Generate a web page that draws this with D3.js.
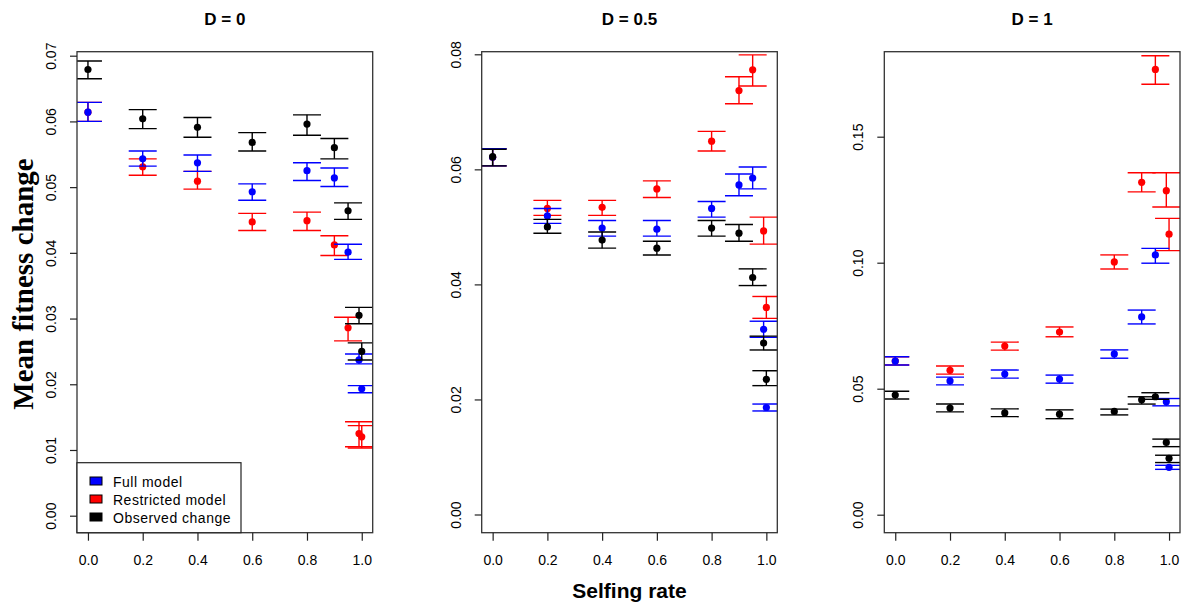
<!DOCTYPE html>
<html>
<head>
<meta charset="utf-8">
<script src="https://cdnjs.cloudflare.com/ajax/libs/d3/7.8.5/d3.min.js"></script>
<style>
    body { margin: 0; background: #ffffff; }
    text { font-family: "Liberation Sans", Arial, sans-serif; fill: #000; }
</style>
</head>
<body>
<svg id="viz" width="1182" height="608"></svg>
<script>
// selfing rates on the x axis (same for every panel)
const selfing = [0, 0.2, 0.4, 0.6, 0.8, 0.9, 0.95, 0.99, 1];
const x_ticks = [0, 0.2, 0.4, 0.6, 0.8, 1];
const panel_titles = ["D = 0", "D = 0.5", "D = 1"];
const y_ticks_d0 = [0, 0.01, 0.02, 0.03, 0.04, 0.05, 0.06, 0.07];
const y_ticks_d05 = [0, 0.02, 0.04, 0.06, 0.08];
const y_ticks_d1 = [0, 0.05, 0.10, 0.15];
const legend_keys = ["Full model", "Restricted model", "Observed change"];

// each entry: [mean, lower, upper]
const d0_full = [[0.0614, 0.0600, 0.0629], [0.0543, 0.0532, 0.0555], [0.0537, 0.0524, 0.0549], [0.0493, 0.0480, 0.0505], [0.0525, 0.0510, 0.0537], [0.0514, 0.0501, 0.0529], [0.0401, 0.0390, 0.0413], [0.0237, 0.0231, 0.0246], [0.0193, 0.0187, 0.0198]];
const d0_restricted = [[0.0614, 0.0600, 0.0629], [0.0531, 0.0518, 0.0543], [0.0509, 0.0497, 0.0524], [0.0447, 0.0434, 0.0460], [0.0449, 0.0434, 0.0462], [0.0412, 0.0396, 0.0426], [0.0286, 0.0266, 0.0302], [0.0125, 0.0105, 0.0143], [0.0120, 0.0103, 0.0137]];
const d0_observed = [[0.0679, 0.0665, 0.0692], [0.0604, 0.0589, 0.0618], [0.0591, 0.0576, 0.0606], [0.0568, 0.0555, 0.0583], [0.0596, 0.0579, 0.0610], [0.0560, 0.0543, 0.0574], [0.0464, 0.0451, 0.0476], [0.0305, 0.0292, 0.0317], [0.0250, 0.0237, 0.0263]];

const d05_full = [[0.0621, 0.0606, 0.0636], [0.0519, 0.0506, 0.0532], [0.0498, 0.0484, 0.0511], [0.0496, 0.0484, 0.0511], [0.0532, 0.0517, 0.0544], [0.0573, 0.0554, 0.0592], [0.0585, 0.0566, 0.0604], [0.0322, 0.0308, 0.0336], [0.0186, 0.0180, 0.0192]];
const d05_restricted = [[0.0621, 0.0606, 0.0636], [0.0532, 0.0520, 0.0546], [0.0534, 0.0520, 0.0546], [0.0566, 0.0551, 0.0580], [0.0649, 0.0632, 0.0666], [0.0737, 0.0714, 0.0761], [0.0773, 0.0745, 0.0799], [0.0493, 0.0470, 0.0517], [0.0360, 0.0341, 0.0379]];
const d05_observed = [[0.0622, 0.0606, 0.0635], [0.0500, 0.0489, 0.0513], [0.0477, 0.0463, 0.0491], [0.0463, 0.0451, 0.0475], [0.0498, 0.0484, 0.0511], [0.0489, 0.0475, 0.0504], [0.0412, 0.0398, 0.0427], [0.0298, 0.0286, 0.0310], [0.0235, 0.0224, 0.0250]];

const d1_full = [[0.0610, 0.0594, 0.0627], [0.0531, 0.0515, 0.0546], [0.0558, 0.0542, 0.0574], [0.0538, 0.0522, 0.0554], [0.0638, 0.0621, 0.0654], [0.0785, 0.0757, 0.0812], [0.1031, 0.0998, 0.1057], [0.0448, 0.0432, 0.0461], [0.0188, 0.0180, 0.0196]];
const d1_restricted = [[0.0610, 0.0594, 0.0627], [0.0573, 0.0558, 0.0590], [0.0669, 0.0653, 0.0685], [0.0725, 0.0706, 0.0745], [0.1003, 0.0975, 0.1031], [0.1319, 0.1281, 0.1357], [0.1767, 0.1708, 0.1821], [0.1286, 0.1221, 0.1357], [0.1113, 0.1048, 0.1176]];
const d1_observed = [[0.0475, 0.0459, 0.0490], [0.0423, 0.0408, 0.0439], [0.0404, 0.0389, 0.0420], [0.0399, 0.0381, 0.0416], [0.0410, 0.0396, 0.0419], [0.0456, 0.0439, 0.0468], [0.0468, 0.0458, 0.0484], [0.0287, 0.0270, 0.0300], [0.0224, 0.0207, 0.0236]];

const col_full = "#0000ff", col_restricted = "#ff0000", col_observed = "#000000";

let svg = d3.select("#viz");

const box_top = 51.7, box_bottom = 532.7;
const cap_w = 14;

let panels = [
    { title: panel_titles[0], ticks: y_ticks_d0, full: d0_full, restricted: d0_restricted, observed: d0_observed,
      left: 77, right: 372.7, y_zero: 515.7, y_top: 55.7 },
    { title: panel_titles[1], ticks: y_ticks_d05, full: d05_full, restricted: d05_restricted, observed: d05_observed,
      left: 481.7, right: 777.3, y_zero: 514.5, y_top: 54.3 },
    { title: panel_titles[2], ticks: y_ticks_d1, full: d1_full, restricted: d1_restricted, observed: d1_observed,
      left: 884.3, right: 1180, y_zero: 514.7, y_top: 136.7 }
];

function draw_series(g, data, x, y, color) {
    let rows = data.map((d, i) => ({ s: selfing[i], m: d[0], lo: d[1], hi: d[2] }));

    // error bars with caps
    g.selectAll(null).data(rows).join("line")
        .attr("x1", d => x(d.s)).attr("x2", d => x(d.s))
        .attr("y1", d => y(d.lo)).attr("y2", d => y(d.hi))
        .attr("stroke", color).attr("stroke-width", 1.4);
    ["lo", "hi"].forEach(k => {
        g.selectAll(null).data(rows).join("line")
            .attr("x1", d => x(d.s) - cap_w).attr("x2", d => x(d.s) + cap_w)
            .attr("y1", d => y(d[k])).attr("y2", d => y(d[k]))
            .attr("stroke", color).attr("stroke-width", 1.4);
    });

    g.selectAll(null).data(rows).join("circle")
        .attr("cx", d => x(d.s))
        .attr("cy", d => y(d.m))
        .attr("r", 3.6)
        .attr("fill", color);
}

panels.forEach(function (p, idx) {
    let x = d3.scaleLinear().domain([-0.04, 1.04]).range([p.left, p.right]);
    let y = d3.scaleLinear().domain([0, p.ticks[p.ticks.length - 1]]).range([p.y_zero, p.y_top]);

    let clip_id = "clip" + idx;
    svg.append("clipPath").attr("id", clip_id)
        .append("rect")
        .attr("x", p.left).attr("y", box_top)
        .attr("width", p.right - p.left).attr("height", box_bottom - box_top);

    let g = svg.append("g").attr("clip-path", "url(#" + clip_id + ")");
    draw_series(g, p.restricted, x, y, col_restricted);
    draw_series(g, p.full, x, y, col_full);
    draw_series(g, p.observed, x, y, col_observed);

    // frame
    svg.append("rect")
        .attr("x", p.left).attr("y", box_top)
        .attr("width", p.right - p.left).attr("height", box_bottom - box_top)
        .attr("fill", "none").attr("stroke", "#333").attr("stroke-width", 1.3);

    // y axis (R style, labels parallel to the axis)
    let y_axis = svg.append("g").attr("transform", "translate(" + p.left + ",0)")
        .call(d3.axisLeft(y).tickValues(p.ticks).tickFormat(d3.format(".2f")).tickSize(7).tickPadding(0));
    y_axis.select(".domain").remove();
    y_axis.selectAll(".tick line").attr("stroke", "#222").attr("stroke-width", 1.2);
    y_axis.selectAll(".tick text")
        .attr("x", null).attr("dy", null)
        .attr("transform", "translate(-21,0) rotate(-90)")
        .attr("text-anchor", "middle")
        .style("font-size", "14px").style("font-family", "'Liberation Sans', Arial, sans-serif").attr("fill", "#111");

    // x axis
    let x_axis = svg.append("g").attr("transform", "translate(0," + box_bottom + ")")
        .call(d3.axisBottom(x).tickValues(x_ticks).tickFormat(d3.format(".1f")).tickSize(8).tickPadding(0));
    x_axis.select(".domain").remove();
    x_axis.selectAll(".tick line").attr("stroke", "#222").attr("stroke-width", 1.2);
    x_axis.selectAll(".tick text")
        .attr("y", 32).attr("dy", null)
        .style("font-size", "14px").style("font-family", "'Liberation Sans', Arial, sans-serif").attr("fill", "#111");

    svg.append("text")
        .attr("x", (p.left + p.right) / 2).attr("y", 25)
        .attr("text-anchor", "middle")
        .style("font-size", "17px").style("font-weight", "bold")
        .text(p.title);
});

// shared axis titles
svg.append("text")
    .attr("transform", "translate(33,284) rotate(-90)")
    .attr("text-anchor", "middle")
    .style("font-family", "'Liberation Serif', 'Times New Roman', serif")
    .style("font-size", "29px").style("font-weight", "bold")
    .text("Mean fitness change");

svg.append("text")
    .attr("x", (panels[1].left + panels[1].right) / 2).attr("y", 598)
    .attr("text-anchor", "middle")
    .style("font-size", "21px").style("font-weight", "bold")
    .text("Selfing rate");

// legend in the first panel
let legend = svg.append("g");
legend.append("rect")
    .attr("x", panels[0].left).attr("y", 462.7)
    .attr("width", 164).attr("height", box_bottom - 462.7)
    .attr("fill", "#fff").attr("stroke", "#222").attr("stroke-width", 1.2);

let legend_cols = [col_full, col_restricted, col_observed];
legend.selectAll("rect.key").data(legend_keys).join("rect")
    .classed("key", true)
    .attr("x", 90).attr("y", (d, i) => 477 + i * 18)
    .attr("width", 12).attr("height", 8)
    .attr("fill", (d, i) => legend_cols[i]).attr("stroke", "#000").attr("stroke-width", 1);
legend.selectAll("text").data(legend_keys).join("text")
    .attr("x", 113).attr("y", (d, i) => 486.5 + i * 18)
    .style("font-size", "14px").style("letter-spacing", "0.5px")
    .text(d => d);
</script>
</body>
</html>
